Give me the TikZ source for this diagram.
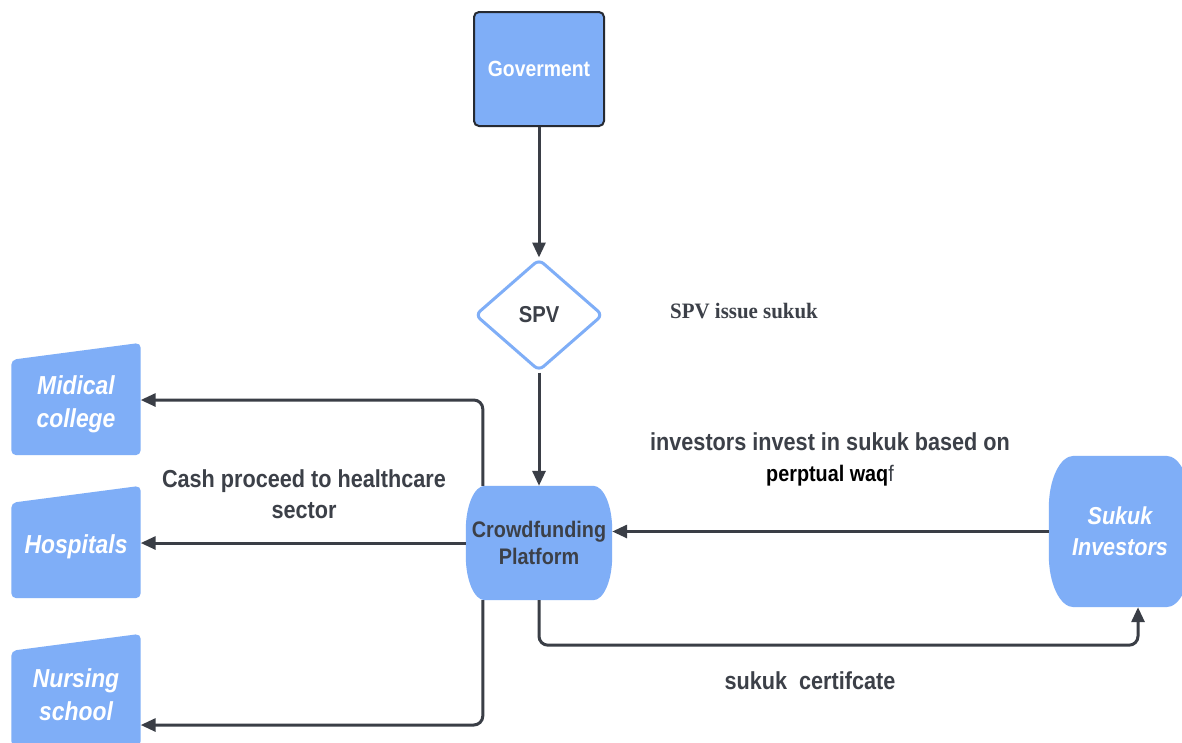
\documentclass[tikz,border=0pt]{standalone}
\usepackage{fontspec}
\setmainfont{Liberation Sans}[FakeStretch=0.88]
\newfontfamily\serifbf{Liberation Serif}[FakeStretch=0.95]
\usetikzlibrary{arrows.meta,shapes.geometric,backgrounds}
\definecolor{nodeblue}{RGB}{127,174,247}
\definecolor{ink}{RGB}{60,64,72}
\definecolor{edgec}{RGB}{58,62,70}
\definecolor{govborder}{RGB}{38,42,50}
\newcommand\maninput[1]{%
  \fill[nodeblue, rounded corners=5pt] ([yshift=5pt]#1.south west) -- ([yshift=5pt]#1.south east)
    -- ([yshift=5pt]#1.north east) -- ([yshift=-12pt]#1.north west) -- cycle;}
% rounded box with elliptical corners: #2 = x radius, #3 = y radius
\newcommand\barrelshape[3]{%
  \fill[nodeblue] ([xshift=#2]#1.north west) -- ([xshift=-#2]#1.north east)
    .. controls ([xshift=-0.448*#2]#1.north east) and ([yshift=-0.448*#3]#1.north east) .. ([yshift=-#3]#1.north east)
    -- ([yshift=#3]#1.south east)
    .. controls ([yshift=0.448*#3]#1.south east) and ([xshift=-0.448*#2]#1.south east) .. ([xshift=-#2]#1.south east)
    -- ([xshift=#2]#1.south west)
    .. controls ([xshift=0.448*#2]#1.south west) and ([yshift=0.448*#3]#1.south west) .. ([yshift=#3]#1.south west)
    -- ([yshift=-#3]#1.north west)
    .. controls ([yshift=-0.448*#3]#1.north west) and ([xshift=0.448*#2]#1.north west) .. cycle;}
\tikzset{
  conn/.style={draw=edgec, line width=3pt, rounded corners=9pt, -{Triangle[length=15pt,width=13pt]}},
  govbox/.style={rectangle, draw=govborder, line width=2pt, fill=nodeblue, rounded corners=5pt,
    minimum width=130pt, minimum height=114pt, inner sep=0pt, text=white,
    font=\bfseries\fontsize{22}{26}\selectfont},
  spvbox/.style={diamond, draw=nodeblue, line width=3pt, fill=white, rounded corners=6pt,
    minimum width=128pt, minimum height=112pt, inner sep=0pt, text=ink,
    font=\bfseries\fontsize{23}{26}\selectfont},
  barrelbox/.style={minimum width=146pt, minimum height=114pt, inner sep=0pt, align=center},
  manbox/.style={minimum width=129pt, minimum height=112pt, inner sep=0pt, align=center, text=white,
    font=\bfseries\itshape\fontsize{26}{33}\selectfont},
  lbl/.style={align=center, text=ink, inner sep=0pt, font=\bfseries\fontsize{24.6}{31}\selectfont}
}
\begin{document}
\begin{tikzpicture}[x=1pt,y=-1pt]
\useasboundingbox (0,0) rectangle (1182,742);
% nodes
\node[govbox] (gov) at (539,69) {Goverment};
\node[spvbox] (spv) at (539,315) {SPV};
\node[barrelbox, text=ink, font=\bfseries\fontsize{22.5}{27}\selectfont] (cf) at (539,543) {Crowdfunding\\Platform};
\node[barrelbox, minimum width=142pt, minimum height=151pt, text=white,
      font=\bfseries\itshape\fontsize{24.5}{31}\selectfont] (inv) at (1120,531.5) {Sukuk\\Investors};
\node[manbox] (mc) at (76,404) {Midical\\college};
\node[manbox] (hos) at (76,547) {Hospitals};
\node[manbox] (ns) at (76,695) {Nursing\\school};
% labels
\node[lbl, font=\serifbf\bfseries\fontsize{22}{26}\selectfont] (spvl) at (744,311) {SPV issue sukuk};
\node[lbl] (invl) at (830,459) {investors invest in sukuk based on\\
  {\color{black}\fontsize{22.5}{31}\selectfont perptual waq}{\mdseries\fontsize{22.5}{31}\selectfont f}};
\node[lbl] (cashl) at (304,494) {Cash proceed to healthcare\\sector};
\node[lbl] (certl) at (810,681) {sukuk\ \ certifcate};
% shapes
\begin{pgfonlayer}{background}
  \fill[white] (0,0) rectangle (1182,742);
  \barrelshape{cf}{19pt}{44pt}
  \barrelshape{inv}{25pt}{52pt}
  \maninput{mc}
  \maninput{hos}
  \maninput{ns}
\end{pgfonlayer}
% connectors
\draw[conn] (gov) -- (spv);
\draw[conn] (spv) -- (cf);
\draw[conn] (inv.west) -- (inv.west -| cf.east);
\draw[conn] (cf.south) -- ++(0,45) -| ([xshift=18pt]inv.south);
\draw[conn] ([xshift=17pt]cf.north west) |- ([yshift=4pt]mc.east);
\draw[conn] (cf.west) -- (cf.west -| hos.east);
\draw[conn] ([xshift=17pt]cf.south west) |- ([yshift=-30pt]ns.east);
\end{tikzpicture}
\end{document}
